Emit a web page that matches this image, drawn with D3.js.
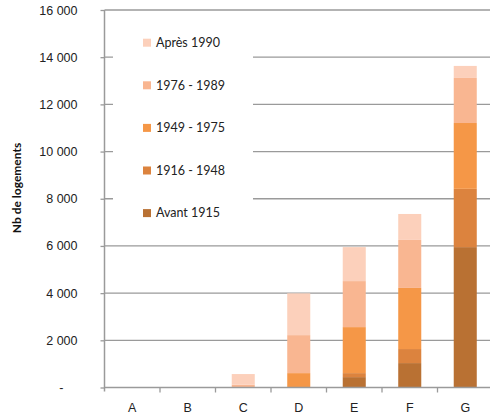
<!DOCTYPE html>
<html>
<head>
<meta charset="utf-8">
<script src="https://cdn.jsdelivr.net/npm/d3@7"></script>
<style>
  html, body { margin: 0; padding: 0; background: #fff; }
  svg { display: block; font-family: Lato, "Open Sans", sans-serif; }
</style>
</head>
<body>
<svg id="chart" width="490" height="418"></svg>
<script>
const categories = ["A", "B", "C", "D", "E", "F", "G"];
const seriesNames = ["Avant 1915", "1916 - 1948", "1949 - 1975", "1976 - 1989", "Après 1990"];
const avant1915 = [0, 0, 0, 0, 440, 1035, 5950];
const p1916_1948 = [0, 0, 0, 0, 170, 595, 2470];
const p1949_1975 = [0, 0, 0, 610, 1950, 2590, 2790];
const p1976_1989 = [0, 0, 120, 1610, 1950, 2035, 1910];
const apres1990 = [0, 0, 450, 1770, 1440, 1100, 510];
const yTicks = [0, 2000, 4000, 6000, 8000, 10000, 12000, 14000, 16000];
const colors = ["#B97133", "#DC833E", "#F59747", "#F9B691", "#FCD0BB"];
const yTitle = "Nb de logements";

const seriesValues = [avant1915, p1916_1948, p1949_1975, p1976_1989, apres1990];
const rows = categories.map((c, i) => {
  const r = { cat: c };
  seriesNames.forEach((s, k) => r[s] = seriesValues[k][i]);
  return r;
});
const stacked = d3.stack().keys(seriesNames)(rows);

const svg = d3.select("#chart");
const x0 = 104.5, xEnd = 104.5 + 7 * 55.5, yTop = 10, yBottom = 387.5;

const x = d3.scaleBand().domain(categories).range([x0, xEnd])
  .paddingInner(0.585).paddingOuter(0.2925);
const y = d3.scaleLinear().domain([0, 16000]).range([yBottom, yTop]);

// gridlines
svg.append("g").selectAll("line").data(yTicks.filter(t => t > 0)).join("line")
  .attr("x1", x0).attr("x2", 490)
  .attr("y1", d => y(d)).attr("y2", d => y(d))
  .attr("stroke", "#9a9a9a").attr("stroke-width", 1.3);

// legend background (hides gridlines)
const legendG = svg.append("g");
legendG.append("rect").attr("x", 113).attr("y", 16).attr("width", 140).attr("height", 210).attr("fill", "#fff");

// bars
svg.append("g").selectAll("g").data(stacked).join("g")
  .attr("fill", (d, i) => colors[i])
  .selectAll("rect").data(d => d).join("rect")
  .attr("x", d => x(d.data.cat))
  .attr("width", x.bandwidth())
  .attr("y", d => y(d[1]))
  .attr("height", d => Math.max(0, y(d[0]) - y(d[1])));

// y axis
const yAxis = d3.axisLeft(y).tickValues(yTicks).tickSize(4).tickPadding(23)
  .tickFormat(d => d === 0 ? "-" : d3.format(",")(d).replace(/,/g, " "));
const ga = svg.append("g").attr("transform", `translate(${x0},0)`).call(yAxis);
ga.select(".domain").attr("stroke", "#9a9a9a").attr("stroke-width", 1.5)
  .attr("d", `M0,${yTop}V${yBottom + 4}`);
ga.selectAll(".tick line").attr("stroke", "#9a9a9a").attr("stroke-width", 1.3);
ga.selectAll(".tick text").attr("fill", "#222").style("font-size", "12.5px")
  .attr("dx", d => d === 0 ? -14 : 0);

// x axis
const xAxis = d3.axisBottom(x).tickSize(0).tickPadding(16);
const gx = svg.append("g").attr("transform", `translate(0,${yBottom})`).call(xAxis);
gx.select(".domain").attr("stroke", "#9a9a9a").attr("stroke-width", 1.5).attr("d", `M${x0},0H490`);
gx.selectAll(".tick text").attr("fill", "#222").style("font-size", "12.5px");
// boundary tick marks
const bounds = categories.slice(1).map(c => x(c) - x.step() * x.paddingInner() / 2);
svg.append("g").selectAll("line").data(bounds).join("line")
  .attr("x1", d => d).attr("x2", d => d)
  .attr("y1", yBottom).attr("y2", yBottom + 5)
  .attr("stroke", "#9a9a9a").attr("stroke-width", 1.3);

// y title
svg.append("text")
  .attr("transform", `translate(21,188) rotate(-90)`)
  .attr("text-anchor", "middle")
  .style("font-size", "12px").style("font-weight", "bold").attr("fill", "#111")
  .text(yTitle);

// legend
const legendItems = seriesNames.map((s, i) => ({ name: s, color: colors[i] })).reverse();
const li = legendG.selectAll("g.item").data(legendItems).join("g").attr("class", "item")
  .attr("transform", (d, i) => `translate(143,${42.7 + i * 42.6})`);
li.append("rect").attr("x", 0).attr("y", -4).attr("width", 8).attr("height", 8).attr("fill", d => d.color);
li.append("text").attr("x", 13).attr("dy", "0.35em").style("font-size", "12.5px").attr("fill", "#222").text(d => d.name);
</script>
</body>
</html>
